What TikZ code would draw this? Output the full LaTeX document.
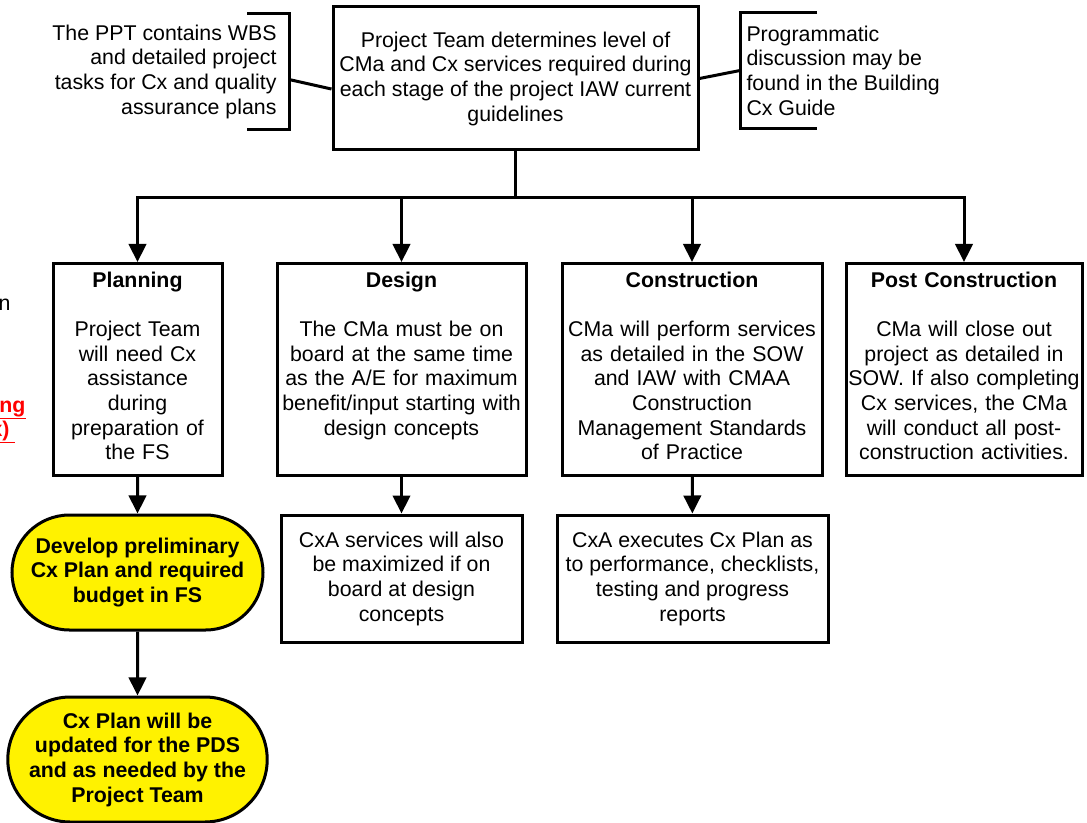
\documentclass[tikz,border=0pt]{standalone}
\usepackage{fontspec}
\setmainfont{Liberation Sans}
\usetikzlibrary{arrows.meta,shapes.misc}

\begin{document}
\begin{tikzpicture}[x = 0.75pt, y = -0.75pt]
        \useasboundingbox (0, 0) rectangle (1087, 823);

        \begin{scope}[%
            every node/.style = {%
                font = \fontsize{16}{18.5}\selectfont,
                line width = 2.25pt,
                inner sep = 0pt
            },
            box/.style = {%
                draw,
                rectangle,
                align = center
            },
            stage/.style = {%
                box,
                anchor = north,
                text height = 17.7pt,
                text depth = 141.3pt
            },
            goal/.style = {%
                draw,
                rounded rectangle,
                fill = yellow,
                align = center,
                font = \fontsize{16}{18.5}\selectfont\bfseries
            },
            note/.style = {%
                minimum height = 84.75pt
            }
        ]

            % Top box and the two side notes.
            \node [box, minimum width = 273.75pt, minimum height = 107.25pt] (team) at (515.5, 78.5)
                {Project Team determines level of\\CMa and Cx services required during\\each stage of the project IAW current\\guidelines};
            \node [note, align = right, anchor = east, inner xsep = 8.25pt] (ppt) at (289, 71.5)
                {The PPT contains WBS\\and detailed project\\tasks for Cx and quality\\assurance plans};
            \node [note, align = left, anchor = west, inner xsep = 3.75pt] (prog) at (740, 70.5)
                {Programmatic\\discussion may be\\found in the Building\\Cx Guide};

            % Stages of the project.
            \node [stage, text width = 126.75pt] (plan) at (137.5, 262)
                {\textbf{Planning}\\~\\Project Team\\will need Cx\\assistance\\during\\preparation of\\the FS};
            \node [stage, text width = 186.75pt] (design) at (401.5, 262)
                {\textbf{Design}\\~\\The CMa must be on\\board at the same time\\as the A/E for maximum\\benefit/input starting with\\design concepts};
            \node [stage, text width = 195pt] (constr) at (692, 262)
                {\textbf{Construction}\\~\\CMa will perform services\\as detailed in the SOW\\and IAW with CMAA\\Construction\\Management Standards\\of Practice};
            \node [stage, text width = 177pt] (post) at (964, 262)
                {\textbf{Post Construction}\\~\\CMa will close out\\project as detailed in\\SOW. If also completing\\Cx services, the CMa\\will conduct all post-\\construction activities.};

            % Commissioning steps below the stages.
            \node [box, minimum width = 180.75pt, minimum height = 95.25pt] (cxdesign) at (401.5, 578.5)
                {CxA services will also\\be maximized if on\\board at design\\concepts};
            \node [box, minimum width = 203.25pt, minimum height = 95.25pt] (cxconstr) at (692.5, 578.5)
                {CxA executes Cx Plan as\\to performance, checklists,\\testing and progress\\reports};
            \node [goal, minimum width = 188.25pt, minimum height = 86.25pt] (prelim) at (137.5, 572.5)
                {Develop preliminary\\Cx Plan and required\\budget in FS};
            \node [goal, minimum width = 188.25pt, minimum height = 93.75pt] (update) at (137.5, 759.5)
                {Cx Plan will be\\updated for the PDS\\and as needed by the\\Project Team};

            % Cut-off text at the left edge.
            \begin{scope}
                \clip (0, 0) rectangle (1087, 823);
                \node [anchor = east] (fragn) at (12, 305) {n};
                \node [anchor = east, text = red, font = \fontsize{16}{18.5}\selectfont\bfseries] (fraging) at (27, 408)
                    {\underline{ing}};
                \node [anchor = east, text = red, font = \fontsize{16}{18.5}\selectfont\bfseries] (fragpar) at (17, 432)
                    {\underline{x)\ }};
            \end{scope}
        \end{scope}

        \begin{scope}[%
            > = {Triangle[width = 13pt, length = 13.5pt]},
            line width = 2.25pt
        ]

            % Brackets of the notes and their links.
            \draw (ppt.north east) ++(-42, 0) -- (ppt.north east) -- (ppt.south east) -- ++(-42, 0);
            \draw (prog.north west) ++(77, 0) -- (prog.north west) -- (prog.south west) -- ++(77, 0);
            \draw ([yshift = -6pt] ppt.east) -- ([yshift = -7.9pt] team.west);
            \draw (team.east) -- (prog.west);

            % Branches to the stages.
            \coordinate (bar) at (515.5, 198);
            \draw (team.south) -- (bar);
            \draw [->] (bar) -| (plan.north);
            \draw [->] (bar) -| (design.north);
            \draw [->] (bar) -| (constr.north);
            \draw [->] (bar) -| (post.north);

            % Arrows down the columns.
            \path [->] (plan) edge (prelim);
            \path [->] (prelim) edge (update);
            \path [->] (design) edge (cxdesign);
            \path [->] (constr) edge (cxconstr);
        \end{scope}
    \end{tikzpicture}
\end{document}
